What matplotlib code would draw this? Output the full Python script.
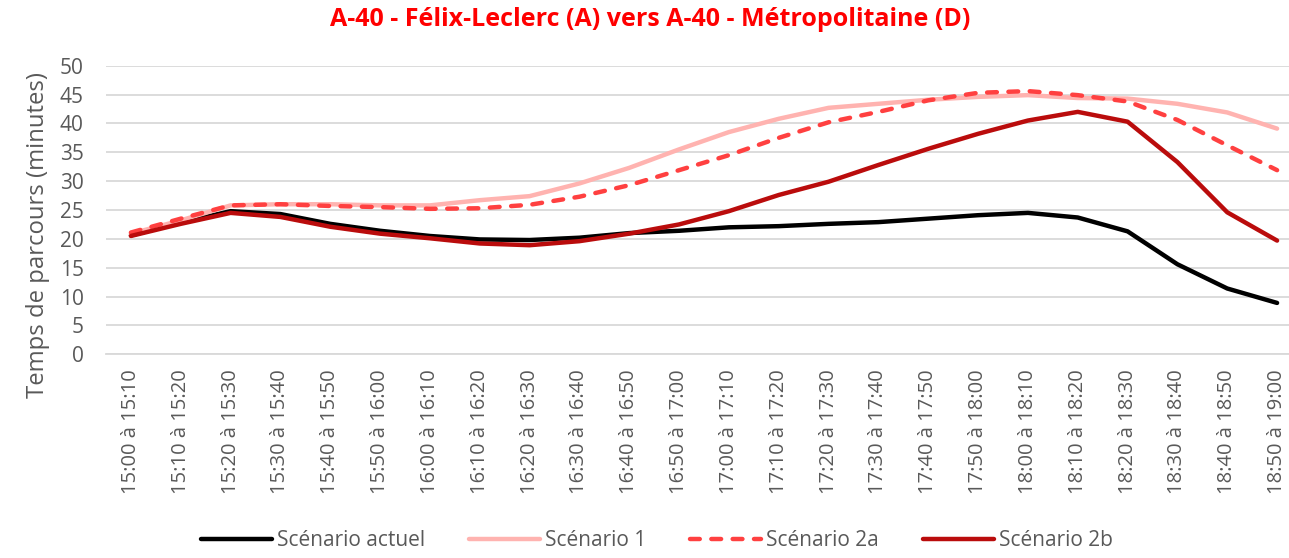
import matplotlib
matplotlib.use('Agg')
import matplotlib.pyplot as plt

periods = ['15:00', '15:10', '15:20', '15:30', '15:40', '15:50', '16:00', '16:10',
           '16:20', '16:30', '16:40', '16:50', '17:00', '17:10', '17:20', '17:30',
           '17:40', '17:50', '18:00', '18:10', '18:20', '18:30', '18:40', '18:50', '19:00']
labels = [f'{a} à {b}' for a, b in zip(periods[:-1], periods[1:])]

actuel = [20.6, 22.8, 24.8, 24.3, 22.6, 21.4, 20.5, 19.9, 19.8, 20.2, 21.0, 21.4,
          22.0, 22.2, 22.6, 22.9, 23.5, 24.1, 24.5, 23.7, 21.3, 15.6, 11.4, 8.9]
scen1 = [20.9, 23.2, 25.8, 26.0, 26.0, 25.8, 25.8, 26.7, 27.4, 29.6, 32.3, 35.5,
         38.5, 40.8, 42.7, 43.4, 44.1, 44.6, 44.9, 44.4, 44.3, 43.4, 41.9, 39.1]
scen2a = [21.1, 23.5, 25.8, 26.0, 25.7, 25.5, 25.2, 25.3, 25.9, 27.3, 29.3, 31.9,
          34.5, 37.5, 40.2, 42.0, 44.0, 45.3, 45.6, 44.9, 43.8, 40.6, 36.2, 31.9]
scen2b = [20.5, 22.6, 24.5, 23.8, 22.1, 20.9, 20.1, 19.2, 18.9, 19.6, 20.9, 22.5,
          24.8, 27.6, 29.9, 32.8, 35.6, 38.2, 40.5, 42.0, 40.3, 33.3, 24.6, 19.7]

font = ['Open Sans', 'DejaVu Sans']
plt.rcParams['font.family'] = font

fig = plt.figure(figsize=(12.89, 5.58), dpi=100)
ax = fig.add_axes([106 / 1289, 1 - 354.3 / 558, 1196 / 1289, 288.6 / 558])

x = range(len(labels))
ax.plot(x, actuel, color='#000000', lw=3.2, label='Scénario actuel', solid_capstyle='round')
ax.plot(x, scen1, color='#FFB3B0', lw=3.2, label='Scénario 1', solid_capstyle='round')
ax.plot(x, scen2a, color='#FF4040', lw=3.2, ls=(0, (2.2, 2.6)), label='Scénario 2a',
        dash_capstyle='round')
ax.plot(x, scen2b, color='#BA0C0C', lw=3.2, label='Scénario 2b', solid_capstyle='round')

ax.set_xlim(-0.5, len(labels) - 0.5)
ax.set_ylim(0, 50)
ax.set_yticks(range(0, 51, 5))
ax.set_xticks(list(x))
ax.set_xticklabels(labels, rotation=90)
ax.tick_params(axis='both', length=0, labelcolor='#595959')
ax.tick_params(axis='x', pad=11, labelsize=14.5)
ax.tick_params(axis='y', pad=16, labelsize=15)
ax.grid(axis='y', color='#D9D9D9', lw=1.3)
ax.set_axisbelow(True)
for s in ['top', 'right', 'left']:
    ax.spines[s].set_visible(False)
ax.spines['bottom'].set_color('#D9D9D9')
ax.spines['bottom'].set_linewidth(1.3)

ax.set_ylabel('Temps de parcours (minutes)', fontsize=17.2, color='#595959')
ax.yaxis.set_label_coords(-56 / 1196, (354.3 - 235) / 288.6)
fig.text(650 / 1289, 1 - 20 / 558, 'A-40 - Félix-Leclerc (A) vers A-40 - Métropolitaine (D)',
         ha='center', va='center', fontsize=18, fontweight='bold', color='#FF0000')

fig.legend(loc='center', bbox_to_anchor=(657 / 1289, 1 - 541 / 558), ncol=4,
           frameon=False, fontsize=15, handlelength=3.4, columnspacing=2.1,
           handletextpad=0.25, labelcolor='#595959')

fig.savefig('out.png', dpi=100)
